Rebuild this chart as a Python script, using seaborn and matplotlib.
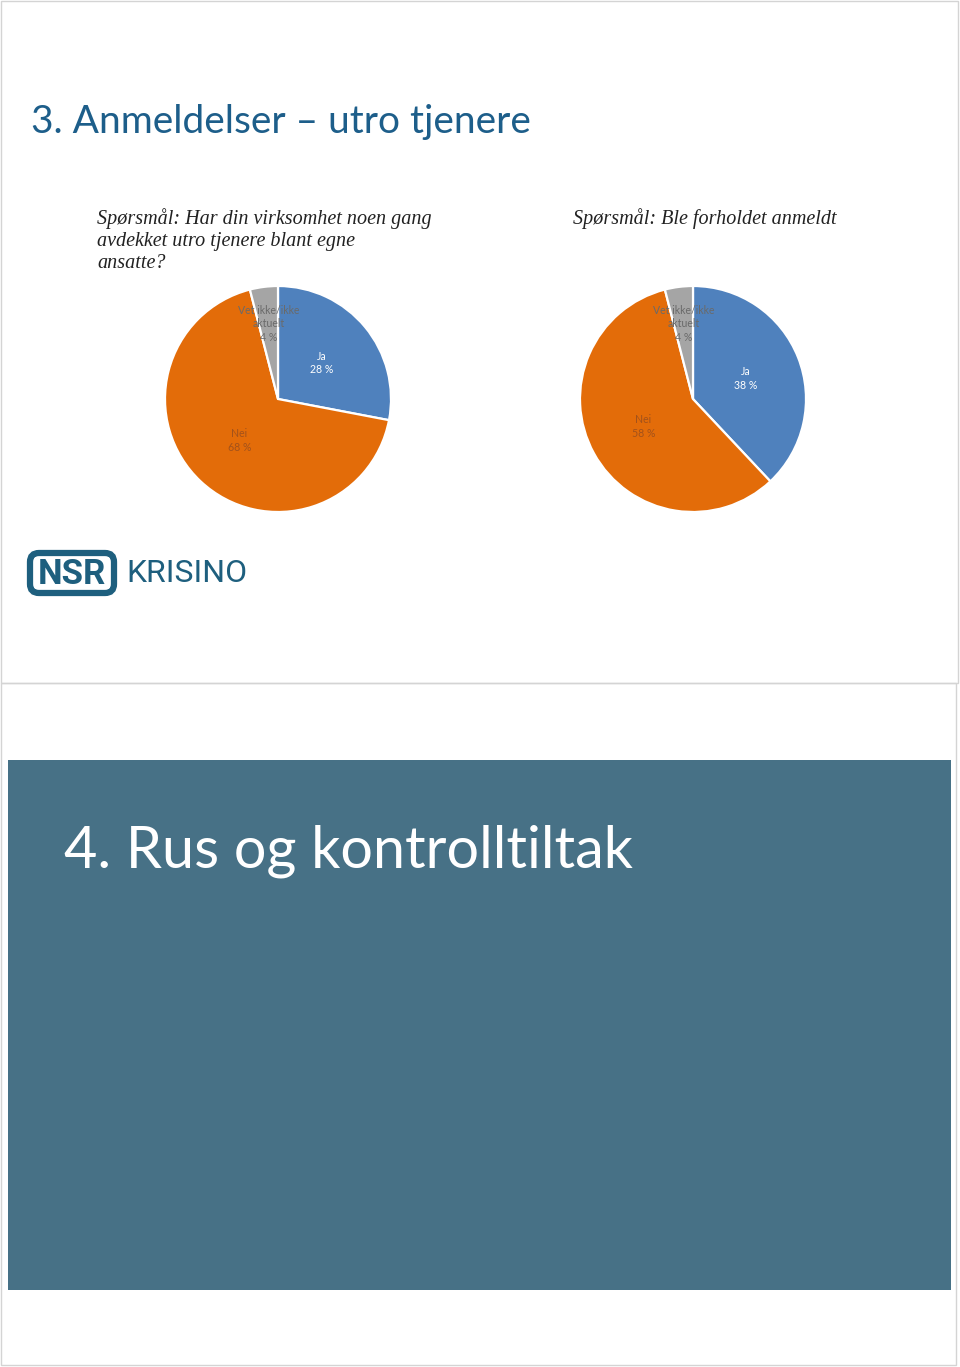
import numpy as np
import matplotlib
matplotlib.use("Agg")
import matplotlib.pyplot as plt
import seaborn as sns
from matplotlib.patches import Rectangle, FancyBboxPatch

# ---- data ----
categories = ["Ja", "Nei", "Vet ikke/ikke\naktuelt"]
q1_values = [28, 68, 4]
q2_values = [38, 58, 4]
q1_title = "Spørsmål: Har din virksomhet noen gang\navdekket utro tjenere blant egne\nansatte?"
q2_title = "Spørsmål: Ble forholdet anmeldt"
slide1_title = "3. Anmeldelser – utro tjenere"
slide2_title = "4. Rus og kontrolltiltak"

sns.set_theme(style="white")
plt.rcParams["font.family"] = ["Lato", "DejaVu Sans"]

pie_colors = ["#4F81BD", "#E36C09", "#A5A5A5"]
label_colors = ["#FFFFFF", "#A3521B", "#6A6A6A"]
label_radius = [0.5, 0.5, 0.67]

W, H = 960, 1367
fig = plt.figure(figsize=(W / 100, H / 100), dpi=100)
bg = fig.add_axes([0, 0, 1, 1])
bg.set_xlim(0, W)
bg.set_ylim(H, 0)
bg.axis("off")

# slide borders
bg.add_patch(Rectangle((1, 1), 957, 682, fill=False, ec="#D4D4D4", lw=1))
bg.add_patch(Rectangle((1, 683), 955, 682, fill=False, ec="#D4D4D4", lw=1))

# slide 1 title
bg.text(31, 133, slide1_title, fontsize=28, color="#1D5E8A", va="baseline", ha="left",
        family=["Lato", "DejaVu Sans"])

# questions
serif = ["Liberation Serif", "DejaVu Serif"]
bg.text(97, 208, q1_title, fontsize=14.5, style="italic", color="#222222", va="top",
        ha="left", family=serif, linespacing=1.2)
bg.text(573, 208, q2_title, fontsize=14.5, style="italic", color="#222222", va="top",
        ha="left", family=serif)


def draw_pie(cx, cy, r, values):
    ax = fig.add_axes([(cx - r) / W, (H - cy - r) / H, 2 * r / W, 2 * r / H])
    wedges, _ = ax.pie(values, colors=pie_colors, startangle=90, counterclock=False,
                       wedgeprops=dict(edgecolor="white", linewidth=1.6))
    ax.set_xlim(-1, 1)
    ax.set_ylim(-1, 1)
    ax.set_aspect("equal")
    ax.axis("off")
    for w, lab, v, col, rr in zip(wedges, categories, values, label_colors, label_radius):
        ang = np.deg2rad((w.theta1 + w.theta2) / 2)
        ax.text(rr * np.cos(ang), rr * np.sin(ang), f"{lab}\n{v} %", ha="center",
                va="center", fontsize=7.6, color=col, linespacing=1.3)


draw_pie(278, 399, 113, q1_values)
draw_pie(693, 399, 113, q2_values)

# logo
logo_col = "#1E5F7E"
bg.add_patch(FancyBboxPatch((30, 553), 84, 40, boxstyle="round,pad=0,rounding_size=9",
                            fill=False, ec=logo_col, lw=4.5))
bg.text(72, 574, "NSR", fontsize=25, fontweight="bold", color=logo_col, ha="center",
        va="center", family=["Roboto", "DejaVu Sans"])
bg.text(126, 574, "KRISINO", fontsize=23, color=logo_col, ha="left", va="center",
        family=["Roboto", "DejaVu Sans"])

# slide 2
bg.add_patch(Rectangle((8, 760), 943, 530, color="#477186", lw=0))
bg.text(64, 867, slide2_title, fontsize=41.5, color="white", va="baseline", ha="left",
        family=["Lato", "DejaVu Sans"])

fig.savefig("out.png", dpi=100)
